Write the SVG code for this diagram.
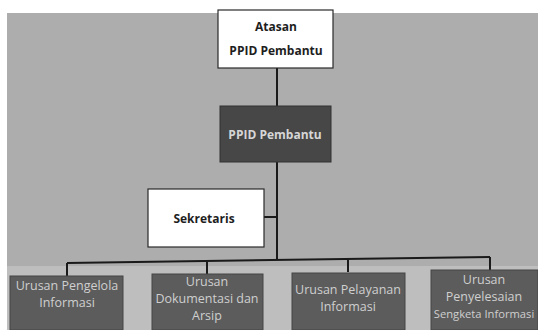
<svg xmlns="http://www.w3.org/2000/svg" width="538" height="330" viewBox="0 0 538 330">
<style>
.txt{font-family:"Open Sans","Liberation Sans",sans-serif;text-anchor:middle}
.wbox{fill:#ffffff;stroke:#2a2a2a;stroke-width:1.2}
.dbox{fill:#474747;stroke:#333333;stroke-width:1}
.ubox{fill:#5c5c5c;stroke:#444444;stroke-width:1}
.wt{font-size:12px;font-weight:bold;fill:#1e1e1e}
.dt{font-size:12px;font-weight:bold;fill:#d6d6d6}
.ut{font-size:12.5px;fill:#cfcfcf}
.conn{stroke:#1a1a1a;stroke-width:2;fill:none}
</style>
<rect x="0" y="0" width="538" height="330" fill="#ffffff"/>
<rect x="7" y="13" width="531" height="317" fill="#adadad"/>
<rect x="7" y="266" width="531" height="64" fill="#bebebe"/>
<g id="connectors">
<line class="conn" x1="277" y1="68" x2="277" y2="106"/>
<line class="conn" x1="277" y1="162" x2="277" y2="260"/>
<line class="conn" x1="264" y1="217" x2="277" y2="217"/>
<line class="conn" x1="67" y1="263" x2="490" y2="257"/>
<line class="conn" x1="67" y1="263" x2="67" y2="276"/>
<line class="conn" x1="207" y1="261" x2="207" y2="274"/>
<line class="conn" x1="348" y1="259" x2="348" y2="272"/>
<line class="conn" x1="490" y1="257" x2="490" y2="270"/>
</g>
<g id="atasan">
<rect class="wbox" x="218" y="10" width="115" height="58"/>
<text class="txt wt" x="276" y="31">Atasan</text>
<text class="txt wt" x="276" y="55">PPID Pembantu</text>
</g>
<g id="ppid">
<rect class="dbox" x="220" y="106" width="111" height="56"/>
<text class="txt dt" x="275" y="139">PPID Pembantu</text>
</g>
<g id="sekretaris">
<rect class="wbox" x="148" y="189" width="116" height="58"/>
<text class="txt wt" x="204" y="223">Sekretaris</text>
</g>
<g id="urusan1">
<rect class="ubox" x="10" y="276" width="113" height="54"/>
<text class="txt ut" x="67" y="290">Urusan Pengelola</text>
<text class="txt ut" x="67" y="307">Informasi</text>
</g>
<g id="urusan2">
<rect class="ubox" x="152" y="274" width="111" height="56"/>
<text class="txt ut" x="207" y="286">Urusan</text>
<text class="txt ut" x="207" y="303">Dokumentasi dan</text>
<text class="txt ut" x="207" y="320">Arsip</text>
</g>
<g id="urusan3">
<rect class="ubox" x="292" y="273" width="113" height="57"/>
<text class="txt ut" x="348" y="294">Urusan Pelayanan</text>
<text class="txt ut" x="348" y="311">Informasi</text>
</g>
<g id="urusan4">
<rect class="ubox" x="431" y="270" width="107" height="60"/>
<text class="txt ut" x="484" y="284">Urusan</text>
<text class="txt ut" x="484" y="301">Penyelesaian</text>
<text class="txt ut" x="484" y="318" style="font-size:11.2px">Sengketa Informasi</text>
</g>
</svg>
